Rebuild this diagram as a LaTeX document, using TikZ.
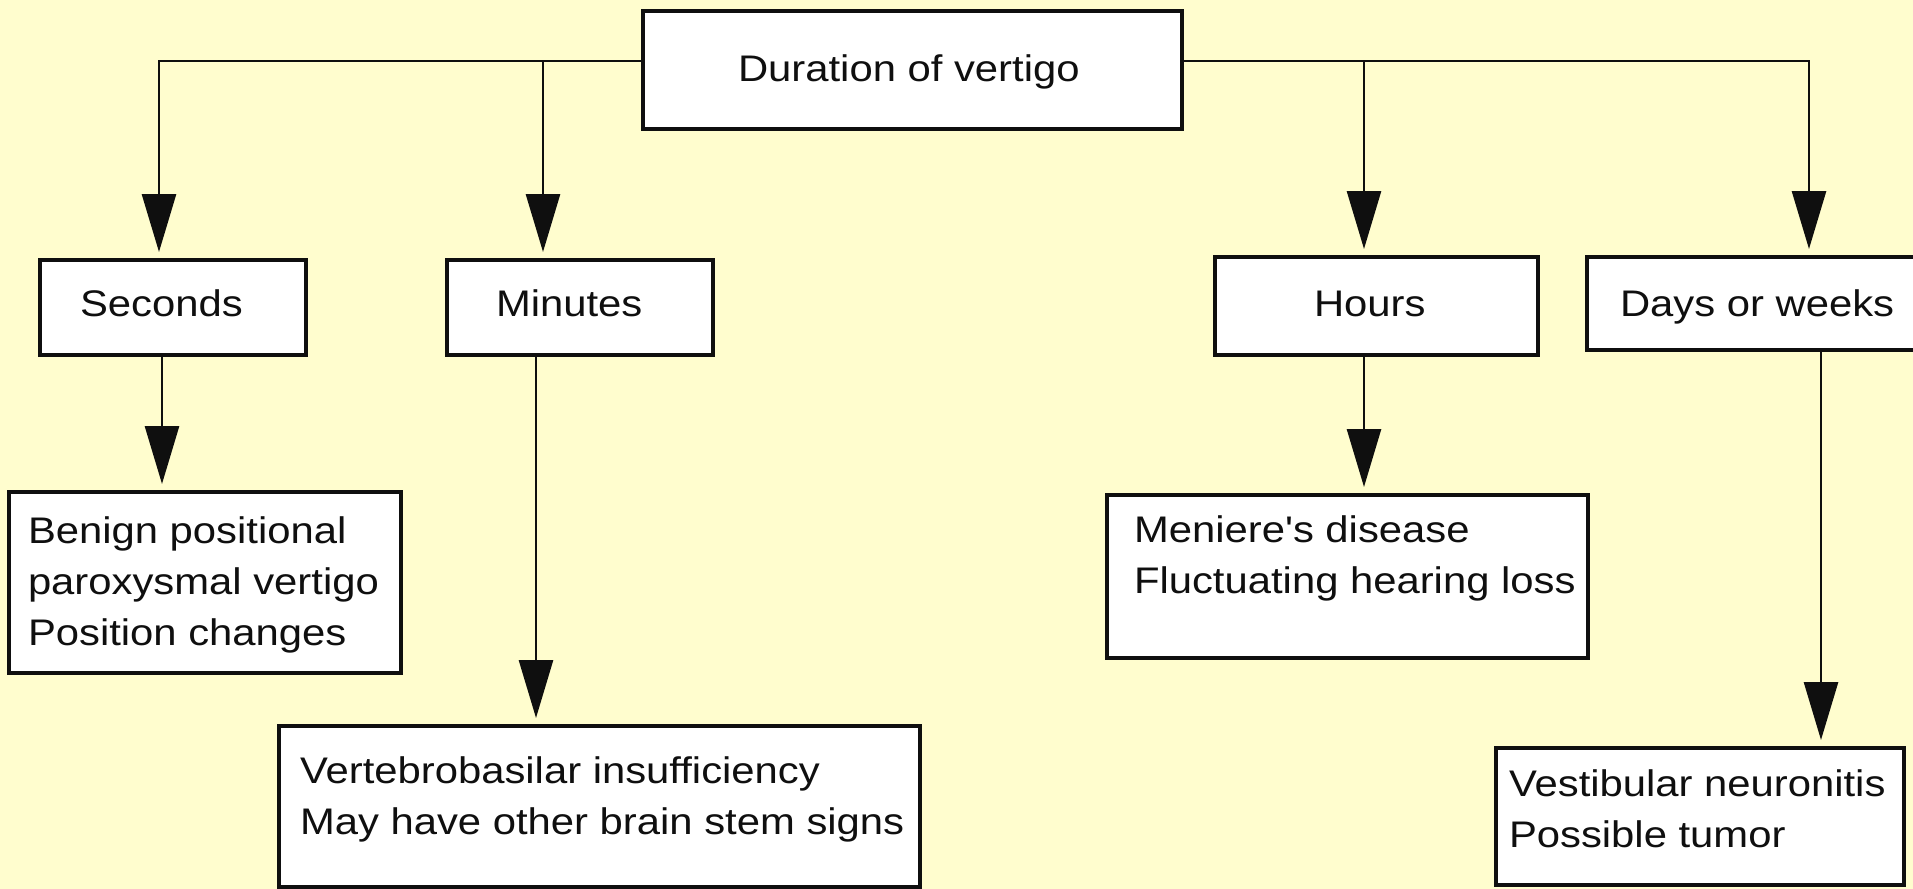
\documentclass[tikz,border=0pt]{standalone}
\usepackage{fontspec}
\setmainfont{Liberation Sans}[FakeStretch=1.13, Ligatures=TeXOff]
\usetikzlibrary{arrows.meta,fit}
\definecolor{bgy}{RGB}{255,253,206}
\definecolor{ink}{RGB}{15,15,15}
\begin{document}
\begin{tikzpicture}[x=0.5pt,y=-0.5pt,
  box/.style={draw=ink, line width=1.65pt, fill=white, inner sep=0pt, outer sep=0pt},
  lbl/.style={inner sep=0pt, outer sep=0pt, text=ink, font=\fontsize{18.5}{25.5}\selectfont, align=left},
  conn/.style={draw=ink, line width=1.4pt},
  arr/.style={conn, -{Triangle[length=29pt,width=17pt]}, shorten >=4pt}]
\path[use as bounding box] (0,0) rectangle (1913,889);
\clip (0,0) rectangle (1913,889);
\fill[bgy] (0,0) rectangle (1913,889);

% boxes
\node[box, fit={(643,11) (1182,129)}] (top) {};
\node[box, fit={(40,260) (306,355)}] (sec) {};
\node[box, fit={(447,260) (713,355)}] (min) {};
\node[box, fit={(1215,257) (1538,355)}] (hrs) {};
\node[box, fit={(1587,257) (1935,350)}] (days) {};
\node[box, fit={(9,492) (401,673)}] (bppv) {};
\node[box, fit={(279,726) (920,887)}] (vbi) {};
\node[box, fit={(1107,495) (1588,658)}] (men) {};
\node[box, fit={(1496,748) (1904,885)}] (vest) {};

% labels
\node[lbl, anchor=base west] (tTop) at (738,81) {Duration of vertigo};
\node[lbl, anchor=base west] (tSec) at (80,316) {Seconds};
\node[lbl, anchor=base west] (tMin) at (496,316) {Minutes};
\node[lbl, anchor=base west] (tHrs) at (1314,316) {Hours};
\node[lbl, anchor=base west] (tDays) at (1620,316) {Days or weeks};
\node[lbl, anchor=north west] (tBppv) at (28,517) {Benign positional\\paroxysmal vertigo\\Position changes};
\node[lbl, anchor=north west] (tVbi) at (300,757) {Vertebrobasilar insufficiency\\May have other brain stem signs};
\node[lbl, anchor=north west] (tMen) at (1134,516) {Meniere's disease\\Fluctuating hearing loss};
\node[lbl, anchor=north west] (tVest) at (1509,770) {Vestibular neuronitis\\Possible tumor};

% connector coordinates
\coordinate (jS) at (159,61);
\coordinate (jM) at (543,61);
\coordinate (jH) at (1364,61);
\coordinate (jD) at (1809,61);
\coordinate (xS) at (162,0);
\coordinate (xM) at (536,0);
\coordinate (xD) at (1821,0);

% connectors
\draw[arr] (top.west |- jS) -| (jS |- sec.north);
\draw[arr] (jM) -- (jM |- min.north);
\draw[arr] (top.east |- jD) -| (jD |- days.north);
\draw[arr] (jH) -- (jH |- hrs.north);
\draw[arr] (xS |- sec.south) -- (xS |- bppv.north);
\draw[arr] (xM |- min.south) -- (xM |- vbi.north);
\draw[arr] (jH |- hrs.south) -- (jH |- men.north);
\draw[arr] (xD |- days.south) -- (xD |- vest.north);
\end{tikzpicture}
\end{document}
